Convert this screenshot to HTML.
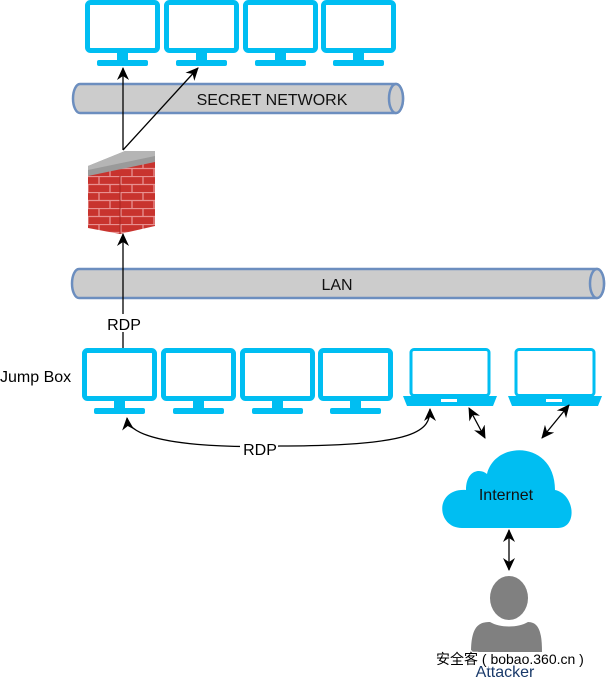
<!DOCTYPE html>
<html><head><style>
body{margin:0;background:#fff;width:607px;height:678px;overflow:hidden}
svg text{font-family:"Liberation Sans","Noto Sans CJK SC",sans-serif}
</style></head><body>
<svg width="607" height="678" viewBox="0 0 607 678" xmlns="http://www.w3.org/2000/svg">
<defs>
<g id="mon">
<rect x="2.5" y="2.5" width="70" height="48" rx="3" fill="#fff" stroke="#00bef2" stroke-width="5"/>
<rect x="32" y="52" width="11" height="8" fill="#00bef2"/>
<rect x="12" y="60" width="51" height="6" rx="2" fill="#00bef2"/>
</g>
<g id="lap">
<rect x="10" y="1.5" width="78" height="46" rx="3" fill="#fff" stroke="#00bef2" stroke-width="3"/>
<path d="M2 48 H96 L92 58 H6 Z" fill="#00bef2"/>
<rect x="40" y="51" width="16" height="3" fill="#fff"/>
</g>
<marker id="ah" markerWidth="14" markerHeight="14" refX="12" refY="6" orient="auto" markerUnits="userSpaceOnUse"><path d="M0,0 L13,6 L0,12 L4,6 Z" fill="#000"/></marker>
<marker id="as" markerWidth="14" markerHeight="14" refX="1" refY="6" orient="auto" markerUnits="userSpaceOnUse"><path d="M13,0 L0,6 L13,12 L9,6 Z" fill="#000"/></marker>
<pattern id="brick" width="22" height="16" patternUnits="userSpaceOnUse">
<rect width="22" height="16" fill="#c8332e"/>
<path d="M0 0.5H22M0 8.5H22M11 0V8M0 8V16M22 8V16" stroke="#e89090" stroke-width="1.3"/>
</pattern>
</defs>
<use href="#mon" x="85" y="0"/><use href="#mon" x="164" y="0"/><use href="#mon" x="243" y="0"/><use href="#mon" x="321" y="0"/>
<path d="M80 84 H396 A7 14.5 0 0 1 396 113 H80 A7 14.5 0 0 1 80 84 Z" fill="#cccccc" stroke="#6c8ebf" stroke-width="2.5"/>
<ellipse cx="396" cy="98.5" rx="7" ry="14.5" fill="#cccccc" stroke="#6c8ebf" stroke-width="2.5"/>
<text x="272" y="105" font-size="16" text-anchor="middle" fill="#111">SECRET NETWORK</text>
<line x1="123" y1="150" x2="123" y2="68" stroke="#000" stroke-width="1.3" marker-end="url(#ah)"/>
<line x1="123" y1="150" x2="198" y2="68" stroke="#000" stroke-width="1.3" marker-end="url(#ah)"/>
<path d="M88 172 L155 160 V226 L120 234 L88 228 Z" fill="url(#brick)"/>
<path d="M88 166 L125 151 L155 151 L155 162 L88 176 Z" fill="#9a9a9a"/>
<path d="M88 166 L125 151 L155 151 L155 156 L88 170 Z" fill="#b5b5b5"/>
<path d="M120 176 V234" stroke="#a82420" stroke-width="1"/>
<path d="M79 269 H597 A7 14.5 0 0 1 597 298 H79 A7 14.5 0 0 1 79 269 Z" fill="#cccccc" stroke="#6c8ebf" stroke-width="2.5"/>
<ellipse cx="597" cy="283.5" rx="7" ry="14.5" fill="#cccccc" stroke="#6c8ebf" stroke-width="2.5"/>
<text x="337" y="290" font-size="16" text-anchor="middle" fill="#111">LAN</text>
<line x1="123" y1="352" x2="123" y2="234" stroke="#000" stroke-width="1.3" marker-end="url(#ah)"/>
<rect x="103" y="314" width="42" height="18" fill="#fff"/>
<text x="124" y="330" font-size="16" text-anchor="middle" fill="#000">RDP</text>
<text x="0" y="382" font-size="16" fill="#000">Jump Box</text>
<use href="#mon" x="82" y="348"/><use href="#mon" x="161" y="348"/><use href="#mon" x="240" y="348"/><use href="#mon" x="318" y="348"/>
<use href="#lap" x="401" y="348"/><use href="#lap" x="506" y="348"/>
<path d="M127 418 C130 450 260 447 280 446 C420 446 430 430 430 409" fill="none" stroke="#000" stroke-width="1.3" marker-start="url(#as)" marker-end="url(#ah)"/>
<rect x="240" y="440" width="38" height="16" fill="#fff"/>
<text x="260" y="455" font-size="16" text-anchor="middle" fill="#000">RDP</text>
<line x1="469" y1="408" x2="485" y2="438" stroke="#000" stroke-width="1.3" marker-start="url(#as)" marker-end="url(#ah)"/>
<line x1="569" y1="405" x2="542" y2="438" stroke="#000" stroke-width="1.3" marker-start="url(#as)" marker-end="url(#ah)"/>
<path d="M462 528 C436 528 434 488 466 490 C466 470 480 468 487 474 C495 440 555 440 555 490 C575 494 578 528 558 528 Z" fill="#00bef2"/>
<text x="506" y="500" font-size="16" text-anchor="middle" fill="#111">Internet</text>
<line x1="509" y1="530" x2="509" y2="570" stroke="#000" stroke-width="1.3" marker-start="url(#as)" marker-end="url(#ah)"/>
<ellipse cx="509" cy="598" rx="19" ry="22" fill="#808080"/>
<path d="M471 652 C471 625 480 622 490 622 C500 628 518 628 528 622 C540 622 542 635 542 652 Z" fill="#808080"/>
<text x="505" y="677" font-size="16" text-anchor="middle" fill="#1a3a6a">Attacker</text>
<text x="436" y="664" font-size="14" fill="#000" stroke="#fff" stroke-width="2.5" paint-order="stroke">安全客 ( bobao.360.cn )</text>
</svg>
</body></html>
